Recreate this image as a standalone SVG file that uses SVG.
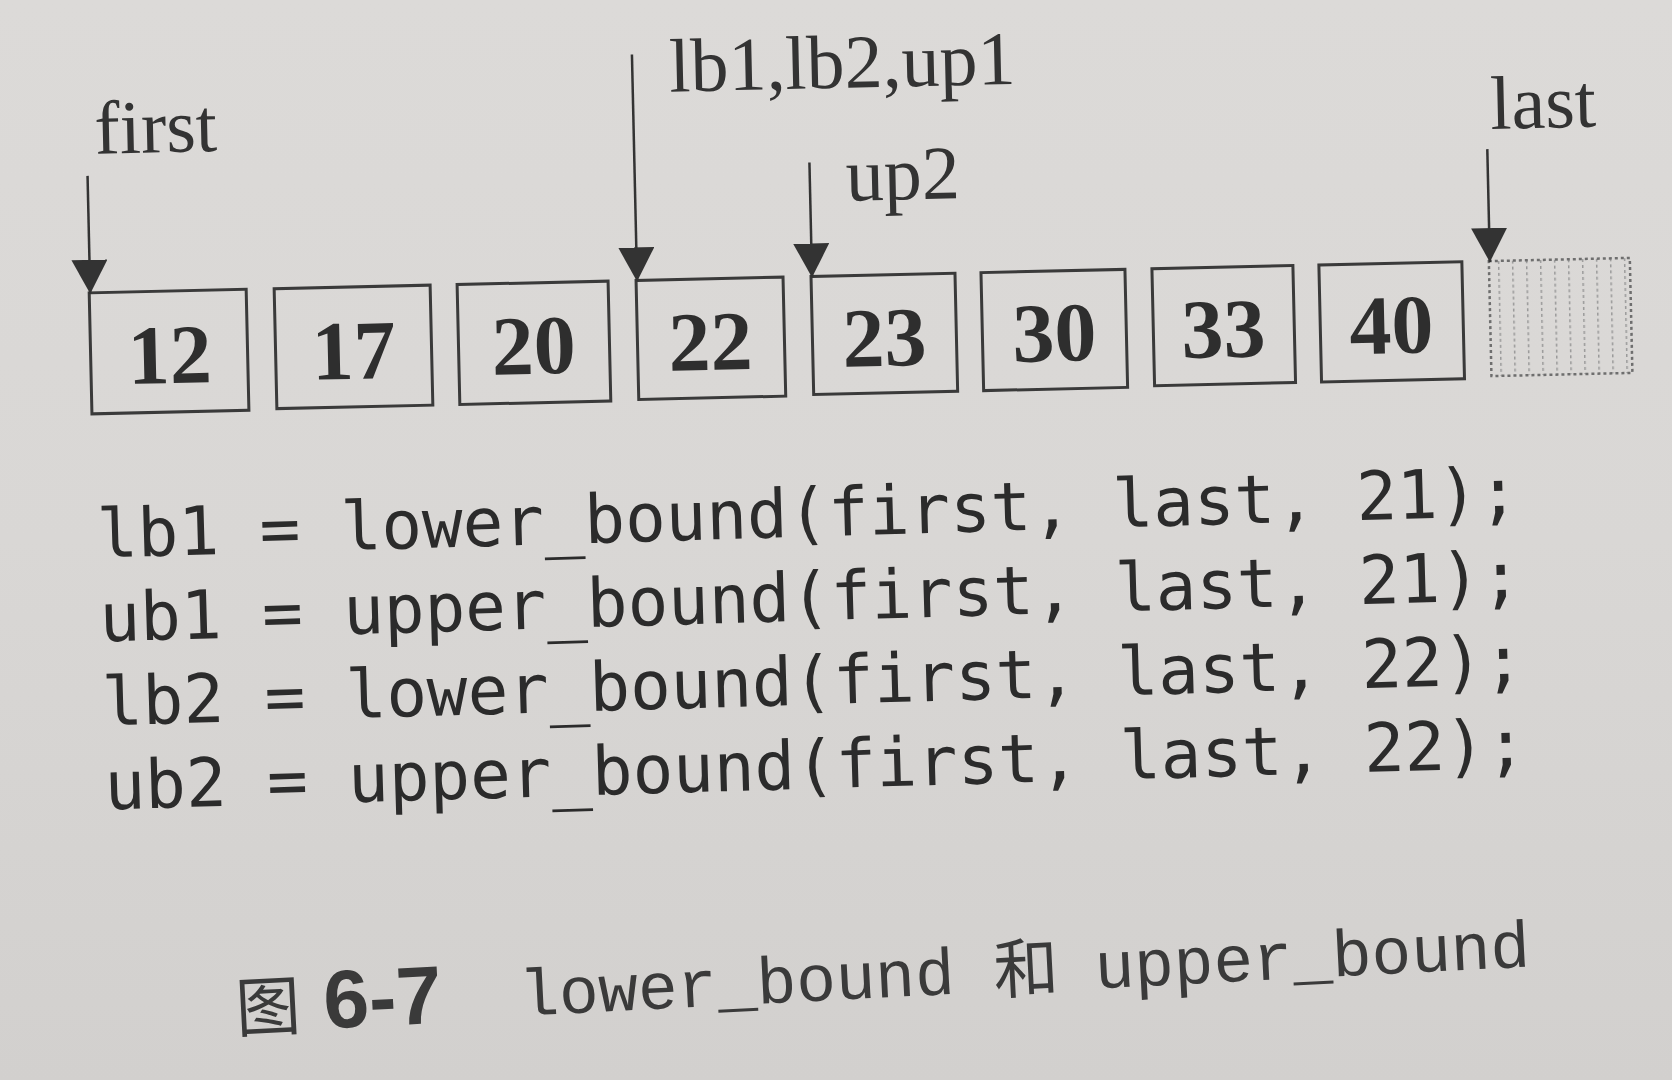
<svg xmlns="http://www.w3.org/2000/svg" width="1672" height="1080" viewBox="0 0 1672 1080">
<defs>
  <linearGradient id="paper" x1="0" y1="0" x2="0" y2="1">
    <stop offset="0" stop-color="#dcdad8"/>
    <stop offset="0.5" stop-color="#d9d7d5"/>
    <stop offset="1" stop-color="#d2d0ce"/>
  </linearGradient>
  <marker id="head" viewBox="0 0 34 36" refX="34" refY="18" markerWidth="34" markerHeight="36" markerUnits="userSpaceOnUse" orient="auto">
    <path d="M0,0 L34,18 L0,36 z" fill="#333"/>
  </marker>
  <pattern id="hatch" x="0" y="0" width="14" height="6" patternUnits="userSpaceOnUse">
    <rect x="6" y="0" width="1.5" height="3" fill="#999"/>
  </pattern>
  <style>
    .box{fill:none;stroke:#3a3a3a;stroke-width:3}
    .num{font-family:"Liberation Serif",serif;font-weight:bold;font-size:84px;fill:#2e2e2e;text-anchor:middle}
    .lbl{font-family:"Liberation Serif",serif;font-size:76px;fill:#333}
    .arr{stroke:#333;stroke-width:2.5;fill:none;marker-end:url(#head)}
    .code{font-family:"DejaVu Sans Mono",monospace;font-size:67.5px;fill:#2b2b2b}
    .cap{fill:#3a3a3a}
  </style>
</defs>
<rect x="0" y="0" width="1672" height="1080" fill="url(#paper)"/>

<g id="array" transform="rotate(-1.3 836 540)">
  <g id="n12"><rect class="box" x="95" y="276" width="157" height="121"/><text class="num" x="174" y="368">12</text></g>
  <g id="n17"><rect class="box" x="280" y="276" width="156" height="120"/><text class="num" x="358" y="368">17</text></g>
  <g id="n20"><rect class="box" x="463" y="276" width="151" height="120"/><text class="num" x="538" y="367">20</text></g>
  <g id="n22"><rect class="box" x="642" y="276" width="147" height="119"/><text class="num" x="715" y="367">22</text></g>
  <g id="n23"><rect class="box" x="817" y="276" width="144" height="118"/><text class="num" x="889" y="367">23</text></g>
  <g id="n30"><rect class="box" x="987" y="276" width="144" height="118"/><text class="num" x="1059" y="366">30</text></g>
  <g id="n33"><rect class="box" x="1158" y="276" width="141" height="117"/><text class="num" x="1228" y="366">33</text></g>
  <g id="n40"><rect class="box" x="1325" y="276" width="143" height="117"/><text class="num" x="1396" y="366">40</text></g>
  <g id="end">
    <rect x="1495" y="276" width="141" height="115" fill="url(#hatch)"/>
    <rect x="1495" y="276" width="141" height="115" fill="none" stroke="#6e6e6e" stroke-width="2.5" stroke-dasharray="3 3"/>
  </g>

  <g id="label-first"><text class="lbl" x="104" y="137" font-size="82">first</text></g>
  <g id="label-lb"><text class="lbl" x="680" y="88">lb1,lb2,up1</text></g>
  <g id="label-up2"><text class="lbl" x="854" y="201">up2</text></g>
  <g id="label-last"><text class="lbl" x="1500" y="144">last</text></g>

  <g id="connectors">
    <line class="arr" x1="96" y1="159" x2="96" y2="277"/>
    <line class="arr" x1="643" y1="50" x2="643" y2="277"/>
    <line class="arr" x1="818" y1="162" x2="818" y2="277"/>
    <line class="arr" x1="1496" y1="164" x2="1496" y2="277"/>
  </g>
</g>

<g id="code" transform="rotate(-1.7 760 660)">
  <text class="code" x="101" y="538">lb1 = lower_bound(first, last, 21);</text>
  <text class="code" x="101" y="622">ub1 = upper_bound(first, last, 21);</text>
  <text class="code" x="101" y="706">lb2 = lower_bound(first, last, 22);</text>
  <text class="code" x="101" y="790">ub2 = upper_bound(first, last, 22);</text>
</g>

<g id="caption" transform="rotate(-2.9 870 1000)">
  <text class="cap" x="236" y="1000" font-family="'Noto Sans CJK SC',sans-serif" font-size="65">图</text>
  <text class="cap" x="324" y="1001" font-family="'Liberation Sans',sans-serif" font-weight="bold" font-size="82">6-7</text>
  <text class="cap" x="520" y="998" font-family="'Liberation Mono',monospace" font-size="66">lower_bound</text>
  <text class="cap" x="995" y="1000" font-family="'Noto Sans CJK SC',sans-serif" font-size="65">和</text>
  <text class="cap" x="1096" y="1000" font-family="'Liberation Mono',monospace" font-size="66">upper_bound</text>
</g>
</svg>
